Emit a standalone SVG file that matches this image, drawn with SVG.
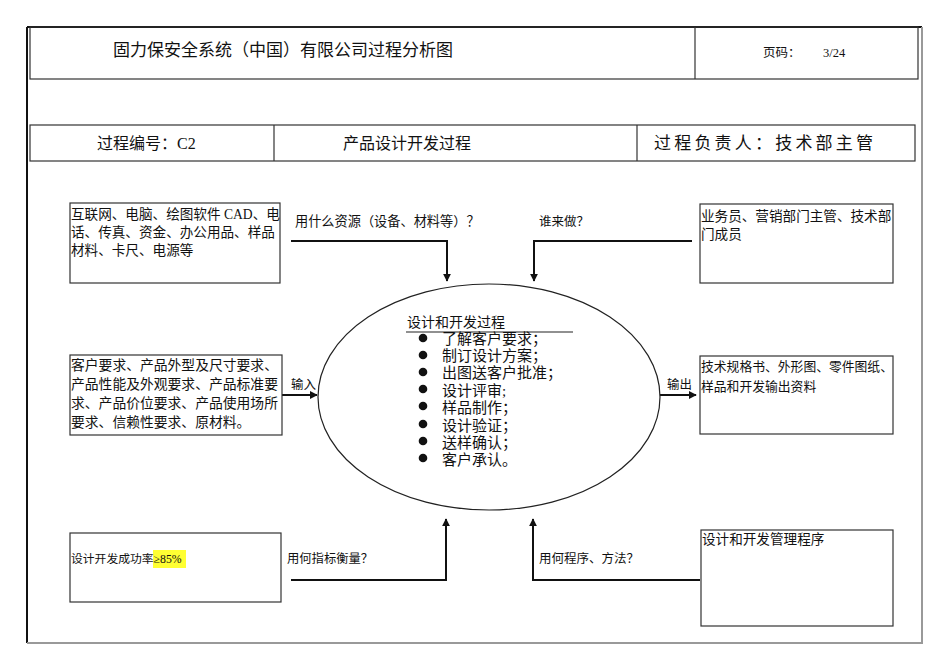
<svg xmlns="http://www.w3.org/2000/svg" width="950" height="672" viewBox="0 0 950 672">
<defs>
<style>
text{font-family:"Liberation Serif","Noto Sans CJK SC",serif;fill:#111}
.box{fill:#fff;stroke:#333;stroke-width:1.2}
.hdr{fill:none;stroke:#333;stroke-width:1.2}
.conn{fill:none;stroke:#111;stroke-width:2}
.t13{font-size:13.6px}
</style>
<marker id="ah" viewBox="0 0 10 10" refX="9" refY="5" markerWidth="4" markerHeight="4" orient="auto" markerUnits="strokeWidth">
<path d="M0,0 L10,5 L0,10 z" fill="#111"/>
</marker>
</defs>
<rect width="950" height="672" fill="#fff"/>
<!-- page border -->
<g id="page">
<line x1="27" y1="27" x2="922" y2="27" stroke="#111" stroke-width="2"/>
<line x1="27" y1="27" x2="27" y2="643" stroke="#111" stroke-width="2"/>
<line x1="922" y1="27" x2="922" y2="644" stroke="#999" stroke-width="2"/>
<line x1="27" y1="643" x2="922" y2="643" stroke="#999" stroke-width="2"/>
</g>
<g id="header">
<rect class="hdr" x="30" y="27" width="888" height="52"/>
<line class="hdr" x1="695" y1="27" x2="695" y2="79"/>
<text x="113" y="56" font-size="17">固力保安全系统（中国）有限公司过程分析图</text>
<text x="763" y="57" font-size="12.5">页码：</text>
<text x="823" y="57" font-size="12.5">3/24</text>
</g>
<g id="info">
<rect class="hdr" x="30" y="125" width="885" height="36"/>
<line class="hdr" x1="274" y1="125" x2="274" y2="161"/>
<line class="hdr" x1="637" y1="125" x2="637" y2="161"/>
<text x="97" y="149" font-size="16">过程编号：C2</text>
<text x="343" y="149" font-size="16">产品设计开发过程</text>
<text x="654" y="149" font-size="17" letter-spacing="3.2">过程负责人：技术部主管</text>
</g>
<g id="connectors">
<polyline class="conn" points="291,241 447,241 447,281" marker-end="url(#ah)"/>
<polyline class="conn" points="692,241 534,241 534,281" marker-end="url(#ah)"/>
<line class="conn" x1="282" y1="395" x2="317" y2="395" marker-end="url(#ah)"/>
<line class="conn" x1="660" y1="395" x2="696" y2="395" marker-end="url(#ah)"/>
<polyline class="conn" points="291,580 446,580 446,519" marker-end="url(#ah)"/>
<polyline class="conn" points="700,580 533,580 533,519" marker-end="url(#ah)"/>
<text x="295" y="226" font-size="13.2">用什么资源（设备、材料等）？</text>
<text x="539" y="226" font-size="12.5">谁来做？</text>
<text x="291" y="389" font-size="12.5">输入</text>
<text x="667" y="389" font-size="12.5">输出</text>
<text x="287" y="563" font-size="12.3">用何指标衡量？</text>
<text x="539" y="563" font-size="12.5">用何程序、方法？</text>
</g>
<g id="resources">
<rect class="box" x="70" y="203" width="210" height="80"/>
<text class="t13" x="71" y="219">互联网、电脑、绘图软件 CAD、电</text>
<text class="t13" x="71" y="237">话、传真、资金、办公用品、样品</text>
<text class="t13" x="71" y="255">材料、卡尺、电源等</text>
</g>
<g id="who">
<rect class="box" x="700" y="204" width="193" height="79"/>
<text class="t13" x="701" y="221">业务员、营销部门主管、技术部</text>
<text class="t13" x="701" y="239">门成员</text>
</g>
<g id="input">
<rect class="box" x="70" y="355" width="212" height="80"/>
<text x="71" y="370" font-size="13.8">客户要求、产品外型及尺寸要求、</text>
<text x="71" y="389" font-size="13.8">产品性能及外观要求、产品标准要</text>
<text x="71" y="408" font-size="13.8">求、产品价位要求、产品使用场所</text>
<text x="71" y="427" font-size="13.8">要求、信赖性要求、原材料。</text>
</g>
<g id="process">
<ellipse cx="489" cy="397" rx="171" ry="113" fill="#fff" stroke="#222" stroke-width="1.2"/>
<text x="407" y="327" font-size="14">设计和开发过程</text>
<line x1="406" y1="332" x2="573" y2="332" stroke="#222" stroke-width="1.2"/>
<g font-size="15">
<circle cx="423" cy="338" r="4.3" fill="#111"/><text x="442" y="344">了解客户要求；</text>
<circle cx="423" cy="355" r="4.3" fill="#111"/><text x="442" y="361">制订设计方案；</text>
<circle cx="423" cy="372" r="4.3" fill="#111"/><text x="442" y="378">出图送客户批准；</text>
<circle cx="423" cy="389" r="4.3" fill="#111"/><text x="442" y="396">设计评审;</text>
<circle cx="423" cy="406" r="4.3" fill="#111"/><text x="442" y="413">样品制作；</text>
<circle cx="423" cy="424" r="4.3" fill="#111"/><text x="442" y="431">设计验证；</text>
<circle cx="423" cy="441" r="4.3" fill="#111"/><text x="442" y="448">送样确认；</text>
<circle cx="423" cy="458" r="4.3" fill="#111"/><text x="442" y="465">客户承认。</text>
</g>
</g>
<g id="output">
<rect class="box" x="700" y="356" width="193" height="78"/>
<text x="701" y="371" font-size="12.8">技术规格书、外形图、零件图纸、</text>
<text x="701" y="391" font-size="12.8">样品和开发输出资料</text>
</g>
<g id="measure">
<rect class="box" x="70" y="533" width="211" height="69"/>
<rect x="153" y="550" width="33" height="18" fill="#ffff33"/>
<text x="71" y="563" font-size="11.8">设计开发成功率<tspan>≥85%</tspan></text>
</g>
<g id="method">
<rect class="box" x="701" y="530" width="192" height="96"/>
<text class="t13" x="702" y="544">设计和开发管理程序</text>
</g>
</svg>
